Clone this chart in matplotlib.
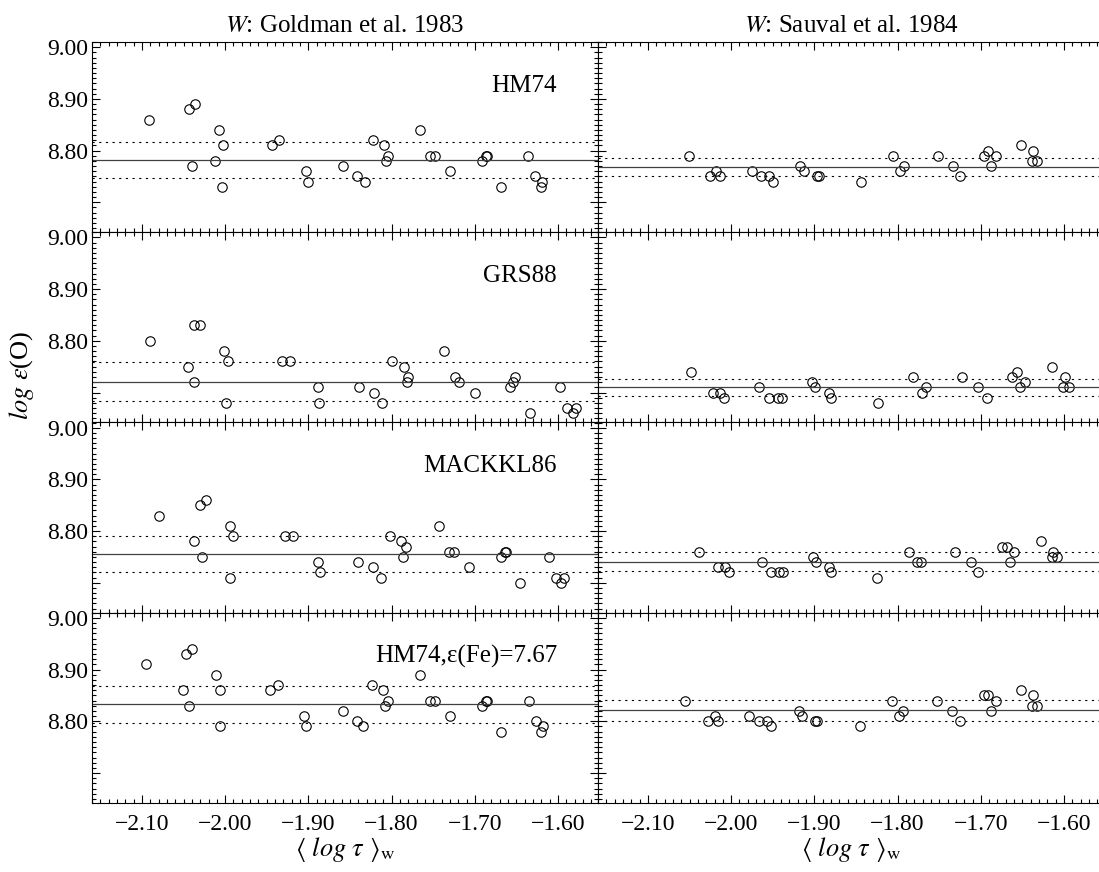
import matplotlib
matplotlib.use("Agg")
import matplotlib.pyplot as plt
from matplotlib.ticker import MultipleLocator, FuncFormatter

plt.rcParams["font.family"] = "serif"
plt.rcParams["font.serif"] = ["Liberation Serif", "DejaVu Serif"]
plt.rcParams["mathtext.fontset"] = "stix"

# column titles and row labels
col_titles = [r"$W$: Goldman et al. 1983", r"$W$: Sauval et al. 1984"]
row_labels = ["HM74", "GRS88", "MACKKL86", "HM74,ε(Fe)=7.67"]

# ---- W: Goldman et al. 1983 (left column) ----
gold_hm74_x = [-2.092, -2.044, -2.036, -2.040, -2.007, -2.003, -2.012, -2.004, -1.944, -1.935,
               -1.903, -1.901, -1.858, -1.841, -1.832, -1.822, -1.809, -1.804, -1.807, -1.766,
               -1.754, -1.748, -1.730, -1.691, -1.687, -1.685, -1.669, -1.636, -1.628, -1.619, -1.621]
gold_hm74_y = [8.86, 8.88, 8.89, 8.77, 8.84, 8.81, 8.78, 8.73, 8.81, 8.82,
               8.76, 8.74, 8.77, 8.75, 8.74, 8.82, 8.81, 8.79, 8.78, 8.84,
               8.79, 8.79, 8.76, 8.78, 8.79, 8.79, 8.73, 8.79, 8.75, 8.74, 8.73]

gold_grs88_x = [-2.090, -2.045, -2.038, -2.030, -2.037, -2.001, -1.996, -1.999, -1.932, -1.922,
                -1.889, -1.887, -1.839, -1.821, -1.811, -1.799, -1.785, -1.780, -1.782, -1.737,
                -1.724, -1.719, -1.700, -1.658, -1.654, -1.652, -1.634, -1.598, -1.589, -1.579, -1.582]
gold_grs88_y = [8.80, 8.75, 8.83, 8.83, 8.72, 8.78, 8.76, 8.68, 8.76, 8.76,
                8.71, 8.68, 8.71, 8.70, 8.68, 8.76, 8.75, 8.73, 8.72, 8.78,
                8.73, 8.72, 8.70, 8.71, 8.72, 8.73, 8.66, 8.71, 8.67, 8.67, 8.66]

gold_mack_x = [-2.080, -2.030, -2.023, -2.037, -2.028, -1.994, -1.990, -1.994, -1.928, -1.919,
               -1.888, -1.886, -1.840, -1.822, -1.813, -1.802, -1.789, -1.783, -1.786, -1.743,
               -1.731, -1.725, -1.707, -1.668, -1.664, -1.662, -1.646, -1.611, -1.603, -1.593, -1.596]
gold_mack_y = [8.83, 8.85, 8.86, 8.78, 8.75, 8.81, 8.79, 8.71, 8.79, 8.79,
               8.74, 8.72, 8.74, 8.73, 8.71, 8.79, 8.78, 8.77, 8.75, 8.81,
               8.76, 8.76, 8.73, 8.75, 8.76, 8.76, 8.70, 8.75, 8.71, 8.71, 8.70]

gold_fe_x = [-2.095, -2.047, -2.040, -2.051, -2.043, -2.011, -2.006, -2.006, -1.946, -1.937,
             -1.905, -1.903, -1.859, -1.842, -1.834, -1.823, -1.810, -1.804, -1.808, -1.766,
             -1.754, -1.748, -1.730, -1.691, -1.687, -1.685, -1.669, -1.635, -1.626, -1.618, -1.620]
gold_fe_y = [8.91, 8.93, 8.94, 8.86, 8.83, 8.89, 8.86, 8.79, 8.86, 8.87,
             8.81, 8.79, 8.82, 8.80, 8.79, 8.87, 8.86, 8.84, 8.83, 8.89,
             8.84, 8.84, 8.81, 8.83, 8.84, 8.84, 8.78, 8.84, 8.80, 8.79, 8.78]

# ---- W: Sauval et al. 1984 (right column) ----
sauv_hm74_x = [-2.051, -2.026, -2.018, -2.013, -1.975, -1.964, -1.954, -1.950, -1.917, -1.913,
               -1.897, -1.895, -1.844, -1.806, -1.797, -1.792, -1.752, -1.734, -1.725, -1.696,
               -1.691, -1.682, -1.688, -1.652, -1.637, -1.638, -1.633]
sauv_hm74_y = [8.79, 8.75, 8.76, 8.75, 8.76, 8.75, 8.75, 8.74, 8.77, 8.76,
               8.75, 8.75, 8.74, 8.79, 8.76, 8.77, 8.79, 8.77, 8.75, 8.79,
               8.80, 8.79, 8.77, 8.81, 8.80, 8.78, 8.78]

sauv_grs88_x = [-2.048, -2.022, -2.013, -2.009, -1.966, -1.954, -1.944, -1.939, -1.903, -1.899,
                -1.882, -1.880, -1.823, -1.781, -1.771, -1.766, -1.723, -1.704, -1.693, -1.662,
                -1.657, -1.647, -1.653, -1.614, -1.599, -1.601, -1.594]
sauv_grs88_y = [8.74, 8.70, 8.70, 8.69, 8.71, 8.69, 8.69, 8.69, 8.72, 8.71,
                8.70, 8.69, 8.68, 8.73, 8.70, 8.71, 8.73, 8.71, 8.69, 8.73,
                8.74, 8.72, 8.71, 8.75, 8.73, 8.71, 8.71]

sauv_mack_x = [-2.039, -2.016, -2.008, -2.002, -1.963, -1.952, -1.943, -1.938, -1.902, -1.898,
               -1.882, -1.880, -1.825, -1.786, -1.777, -1.772, -1.731, -1.712, -1.703, -1.674,
               -1.669, -1.660, -1.665, -1.628, -1.613, -1.615, -1.609]
sauv_mack_y = [8.76, 8.73, 8.73, 8.72, 8.74, 8.72, 8.72, 8.72, 8.75, 8.74,
               8.73, 8.72, 8.71, 8.76, 8.74, 8.74, 8.76, 8.74, 8.72, 8.77,
               8.77, 8.76, 8.74, 8.78, 8.76, 8.75, 8.75]

sauv_fe_x = [-2.055, -2.028, -2.020, -2.016, -1.978, -1.966, -1.957, -1.952, -1.919, -1.915,
             -1.899, -1.897, -1.845, -1.807, -1.798, -1.793, -1.753, -1.735, -1.725, -1.696,
             -1.691, -1.682, -1.688, -1.652, -1.637, -1.639, -1.633]
sauv_fe_y = [8.84, 8.80, 8.81, 8.80, 8.81, 8.80, 8.80, 8.79, 8.82, 8.81,
             8.80, 8.80, 8.79, 8.84, 8.81, 8.82, 8.84, 8.82, 8.80, 8.85,
             8.85, 8.84, 8.82, 8.86, 8.85, 8.83, 8.83]

# mean abundance and dispersion per panel (rows: HM74, GRS88, MACKKL86, HM74 Fe)
gold_mean = [8.782, 8.721, 8.755, 8.833]
gold_sigma = [0.035, 0.038, 0.035, 0.036]
sauv_mean = [8.768, 8.710, 8.741, 8.821]
sauv_sigma = [0.018, 0.017, 0.018, 0.020]

data = [
    [(gold_hm74_x, gold_hm74_y), (sauv_hm74_x, sauv_hm74_y)],
    [(gold_grs88_x, gold_grs88_y), (sauv_grs88_x, sauv_grs88_y)],
    [(gold_mack_x, gold_mack_y), (sauv_mack_x, sauv_mack_y)],
    [(gold_fe_x, gold_fe_y), (sauv_fe_x, sauv_fe_y)],
]
means = [gold_mean, sauv_mean]
sigmas = [gold_sigma, sauv_sigma]

XLIM = (-2.16, -1.552)
YLIM = (8.642, 9.010)

fig = plt.figure(figsize=(10.99, 8.72), dpi=100)

W, H = 1099.0, 872.0
left_px = [92, 598]
panel_w = 506
top_px = 42
row_h = 190.25


def ylab(v, pos):
    # the bottom major tick (8.70) carries no label
    return "" if v < 8.75 else f"{v:.2f}"


for r in range(4):
    for c in range(2):
        x0 = left_px[c] / W
        y0 = 1 - (top_px + (r + 1) * row_h) / H
        ax = fig.add_axes([x0, y0, panel_w / W, row_h / H])
        xs, ys = data[r][c]
        ax.plot(xs, ys, linestyle="none", marker="o", markersize=6.8,
                markerfacecolor="none", markeredgecolor="black", markeredgewidth=0.8)
        m, s = means[c][r], sigmas[c][r]
        ax.axhline(m, color="0.25", lw=0.9)
        ax.axhline(m + s, color="black", lw=0.8, linestyle=(0, (2, 4)))
        ax.axhline(m - s, color="black", lw=0.8, linestyle=(0, (2, 4)))

        ax.set_xlim(*XLIM)
        ax.set_ylim(*YLIM)
        ax.xaxis.set_major_locator(MultipleLocator(0.1))
        ax.xaxis.set_minor_locator(MultipleLocator(0.01))
        ax.yaxis.set_major_locator(MultipleLocator(0.1))
        ax.yaxis.set_minor_locator(MultipleLocator(0.01))
        # right column runs off the page edge, so no ticks on its right side
        ax.tick_params(which="both", direction="in", top=True, right=(c == 0), width=0.8)
        ax.tick_params(which="major", length=5.5)
        ax.tick_params(which="minor", length=2.8)
        ax.tick_params(axis="y", labelsize=17, pad=3)
        ax.tick_params(axis="x", labelsize=17, pad=8)
        for sp in ax.spines.values():
            sp.set_linewidth(0.8)

        if c == 0:
            ax.yaxis.set_major_formatter(FuncFormatter(ylab))
            ax.text(0.919, 0.77, row_labels[r], transform=ax.transAxes,
                    ha="right", va="center", fontsize=18)
        else:
            ax.tick_params(axis="y", labelleft=False)

        if r == 3:
            ax.xaxis.set_major_formatter(FuncFormatter(lambda v, p: f"{v:.2f}".replace("-", "\u2212")))
            ax.set_xlabel(r"$\langle\ log\ \tau\ \rangle_{\rm w}$", fontsize=19, labelpad=0)
        else:
            ax.tick_params(axis="x", labelbottom=False)

        if r == 0:
            ax.set_title(col_titles[c], fontsize=18, pad=7)

fig.text(0.02, 0.57, r"$log\ \varepsilon$(O)", rotation=90, ha="center", va="center", fontsize=19)

fig.savefig("out.png", dpi=100)
